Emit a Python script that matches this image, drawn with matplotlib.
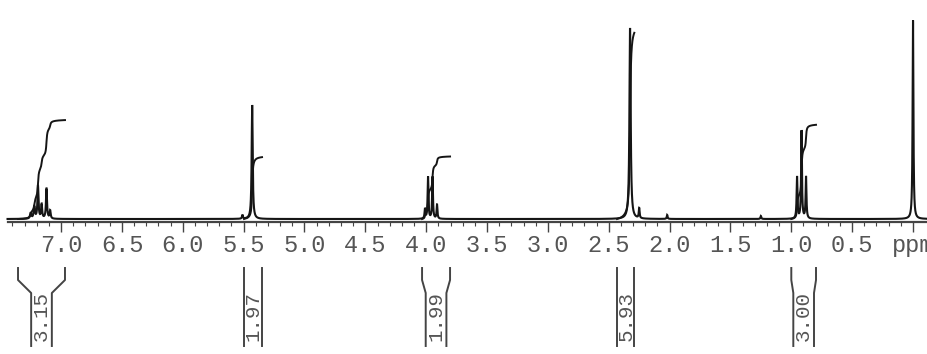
import numpy as np
import matplotlib
matplotlib.use("Agg")
import matplotlib.pyplot as plt

# ---- data ----
peak_ppm = [7.25, 7.22, 7.19, 7.16, 7.12, 7.09, 5.51, 5.43, 4.01, 3.985, 3.948, 3.911,
            2.325, 2.25, 2.02, 1.25, 0.953, 0.916, 0.879, 0.0]
peak_height = [6, 12, 33, 14, 30, 8, 4, 114, 10, 42, 42, 14,
               191, 10, 4, 3, 42, 88, 42, 199]
peak_width = [0.006, 0.006, 0.005, 0.005, 0.005, 0.005, 0.004, 0.005, 0.004, 0.004, 0.004, 0.004,
              0.006, 0.004, 0.004, 0.004, 0.004, 0.004, 0.004, 0.004]

int_start = [7.354, 5.497, 4.034, 2.432, 1.000]
int_end = [6.968, 5.349, 3.804, 2.290, 0.797]
int_value = [3.15, 1.97, 1.99, 5.93, 3.00]
int_labels = ["3.15", "1.97", "1.99", "5.93", "3.00"]

major_ticks = [7.0, 6.5, 6.0, 5.5, 5.0, 4.5, 4.0, 3.5, 3.0, 2.5, 2.0, 1.5, 1.0, 0.5, 0.0]
tick_labels = ["7.0", "6.5", "6.0", "5.5", "5.0", "4.5", "4.0", "3.5", "3.0", "2.5",
               "2.0", "1.5", "1.0", "0.5", "ppm"]
minor_ticks = [round(7.4 - 0.1 * i, 1) for i in range(75)]

ppm_range = (7.44, -0.12)
int_scale = 31.4  # vertical units per proton

# ---- figure ----
fig = plt.figure(figsize=(9.27, 3.54), dpi=100)
ax = fig.add_axes([0, 0, 1, 1])
ax.set_xlim(7.502, -0.115)
ax.set_ylim(-135, 219)

def spectrum(x):
    s = np.zeros_like(x)
    for p, h, g in zip(peak_ppm, peak_height, peak_width):
        s += h * g * g / ((x - p) ** 2 + g * g)
    return s

x = np.linspace(ppm_range[0], ppm_range[1], 20000)
ax.plot(x, spectrum(x), color="#151515", lw=1.5, solid_joinstyle="miter")

# integral curves
for a, b, v in zip(int_start, int_end, int_value):
    xi = np.linspace(a, b, 4000)
    si = spectrum(xi)
    c = np.cumsum(si)
    c = (c - c[0]) / (c[-1] - c[0]) * v * int_scale
    ax.plot(xi, c, color="#151515", lw=1.4)

# integral brackets below the axis
inner_half = 0.085
for a, b, lab in zip(int_start, int_end, int_labels):
    cen = (a + b) / 2
    half = (a - b) / 2
    ih = min(half, inner_half)
    for side in (1, -1):
        xo = cen + side * half
        xin = cen + side * ih
        ax.plot([xo, xo, xin, xin], [-49, -61, -74, -127], color="#444444", lw=1.4)
    ax.text(cen, -97, lab, rotation=90, ha="center", va="center",
            family="Liberation Mono", fontsize=15, color="#555555")

# axis
for s in ("top", "left", "right"):
    ax.spines[s].set_visible(False)
ax.spines["bottom"].set_position(("data", -2.5))
ax.spines["bottom"].set_linewidth(1.6)
ax.spines["bottom"].set_color("#444444")
ax.spines["bottom"].set_bounds(ppm_range[0], ppm_range[1])
ax.set_xticks(major_ticks)
ax.set_xticklabels(tick_labels, family="Liberation Mono", fontsize=17, color="#555555")
ax.set_xticks(minor_ticks, minor=True)
ax.tick_params(axis="x", which="major", direction="out", length=7, width=1.0,
               color="#444444", pad=2)
ax.tick_params(axis="x", which="minor", direction="out", length=3, width=0.8,
               color="#444444")
ax.set_yticks([])

fig.savefig("out.png", dpi=100, facecolor="white")
